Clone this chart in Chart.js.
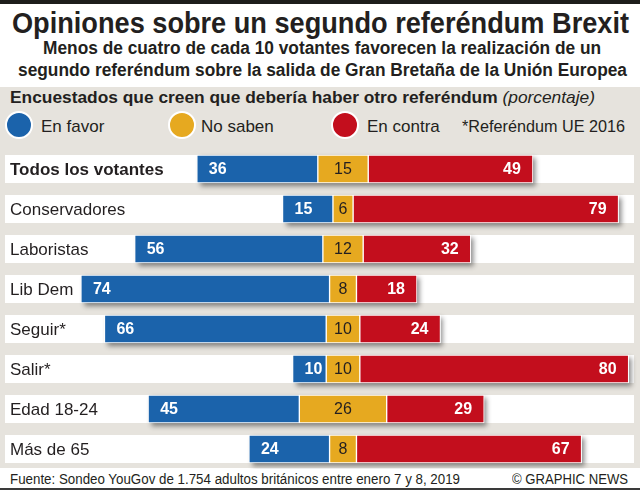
<!DOCTYPE html>
<html>
<head>
<meta charset="utf-8">
<script src="https://cdn.jsdelivr.net/npm/chart.js@4.4.1/dist/chart.umd.min.js"></script>
<style>
  body { margin: 0; width: 640px; height: 494px; position: relative; background: #fff;
         font-family: "Liberation Sans", Arial, sans-serif; color: #231f20; overflow: hidden; }
  .t { position: absolute; white-space: nowrap; line-height: 1; transform-origin: 0 0; }
  .dot { position: absolute; width: 24px; height: 24px; border-radius: 50%; border: 2px solid #fff; }
  #topbar { position: absolute; left: 0; top: 0; width: 640px; height: 4px; background: #1d1d1b; }
  #panel { position: absolute; left: 0; top: 87px; width: 640px; height: 381px; background: #e6e3dd; }
  #bottomline { position: absolute; left: 0; top: 488px; width: 640px; height: 2px; background: #3a3a3a; }
  #wrap { position: absolute; left: 0; top: 149px; width: 640px; height: 320px; }
</style>
</head>
<body>
<div id="topbar"></div>
<div id="panel"></div>
<div class="t" id="title" style="left:12px;top:8.5px;font-size:29px;font-weight:bold">Opiniones sobre un segundo referéndum Brexit</div>
<div class="t" id="sub1" style="left:40px;top:40.2px;font-size:17.5px;font-weight:bold">Menos de cuatro de cada 10 votantes favorecen la realización de un</div>
<div class="t" id="sub2" style="left:18px;top:62.2px;font-size:17.5px;font-weight:bold">segundo referéndum sobre la salida de Gran Bretaña de la Unión Europea</div>
<div class="t" id="head" style="left:10px;top:88.6px;font-size:17px;font-weight:bold">Encuestados que creen que debería haber otro referéndum <span style="font-weight:normal;font-style:italic">(porcentaje)</span></div>

<div class="dot" style="left:5px;top:111px;background:#1b63ab"></div>
<div class="t" style="left:41px;top:117.6px;font-size:17px">En favor</div>
<div class="dot" style="left:168px;top:111px;background:#e6a920"></div>
<div class="t" style="left:201px;top:117.6px;font-size:17px">No saben</div>
<div class="dot" style="left:331px;top:111px;background:#c30e1d"></div>
<div class="t" style="left:367px;top:117.6px;font-size:17px">En contra</div>
<div class="t" id="nota" style="left:462px;top:117.6px;font-size:17px">*Referéndum UE 2016</div>

<div id="wrap"><canvas id="myChart" width="640" height="320"></canvas></div>

<div class="t" id="fuente" style="left:10px;top:472px;font-size:14px">Fuente: Sondeo YouGov de 1.754 adultos británicos entre enero 7 y 8, 2019</div>
<div class="t" id="credito" style="left:512px;top:472px;font-size:14px">© GRAPHIC NEWS</div>
<div id="bottomline"></div>

<script>
// Datos
const categorias = ['Todos los votantes', 'Conservadores', 'Laboristas', 'Lib Dem', 'Seguir*', 'Salir*', 'Edad 18-24', 'Más de 65'];
const enFavor = [36, 15, 56, 74, 66, 10, 45, 24];
const noSaben = [15, 6, 12, 8, 10, 10, 26, 8];
const enContra = [49, 79, 32, 18, 24, 80, 29, 67];

const azul = '#1b63ab';
const amarillo = '#e6a920';
const rojo = '#c30e1d';

// ajustar textos al ancho del original
function fit(id, w) {
  const el = document.getElementById(id);
  const r = w / el.getBoundingClientRect().width;
  el.style.transform = 'scaleX(' + r + ')';
  return r;
}
fit('title', 617);
const rs = fit('sub2', 609);
const s1 = document.getElementById('sub1');
const w1 = s1.getBoundingClientRect().width * rs;
s1.style.transform = 'scaleX(' + rs + ')';
s1.style.left = (322.5 - w1 / 2) + 'px';
fit('head', 585);
fit('nota', 163);
fit('fuente', 450);
fit('credito', 116);

// barras flotantes centradas en "No saben"
const datosFavor = enFavor.map((v, i) => [-noSaben[i] / 2 - v, -noSaben[i] / 2]);
const datosNoSaben = noSaben.map(v => [-v / 2, v / 2]);
const datosContra = enContra.map((v, i) => [noSaben[i] / 2, noSaben[i] / 2 + v]);

const H = 28;

const filas = {
  id: 'filas',
  beforeDatasetsDraw(chart) {
    const { ctx, chartArea, scales: { x, y } } = chart;
    ctx.save();
    ctx.fillStyle = '#fff';
    categorias.forEach((c, i) => {
      const yc = y.getPixelForValue(i);
      ctx.fillRect(chartArea.left, yc - H / 2, chartArea.right - chartArea.left, H);
    });
    // sombra de cada barra
    ctx.shadowColor = 'rgba(0,0,0,0.45)';
    ctx.shadowBlur = 5;
    ctx.shadowOffsetX = 3;
    ctx.shadowOffsetY = 3;
    categorias.forEach((c, i) => {
      const yc = y.getPixelForValue(i);
      const x0 = x.getPixelForValue(datosFavor[i][0]);
      const x1 = x.getPixelForValue(datosContra[i][1]);
      ctx.fillRect(x0, yc - H / 2, x1 - x0, H);
    });
    ctx.restore();
  },
  afterDatasetsDraw(chart) {
    const { ctx, scales: { x, y } } = chart;
    ctx.save();
    ctx.textBaseline = 'middle';
    categorias.forEach((c, i) => {
      const yc = y.getPixelForValue(i) + 1;
      ctx.fillStyle = '#231f20';
      ctx.textAlign = 'left';
      ctx.font = (i === 0 ? 'bold ' : '') + '17px "Liberation Sans", Arial, sans-serif';
      ctx.fillText(c, 10, yc);

      ctx.font = 'bold 16px "Liberation Sans", Arial, sans-serif';
      ctx.fillStyle = '#fff';
      ctx.fillText(String(enFavor[i]), x.getPixelForValue(datosFavor[i][0]) + 12, yc);
      ctx.textAlign = 'right';
      ctx.fillText(String(enContra[i]), x.getPixelForValue(datosContra[i][1]) - 12, yc);

      ctx.font = '16px "Liberation Sans", Arial, sans-serif';
      ctx.fillStyle = '#231f20';
      ctx.textAlign = 'center';
      ctx.fillText(String(noSaben[i]), x.getPixelForValue(0), yc);
    });
    ctx.restore();
  }
};

const ctx = document.getElementById('myChart').getContext('2d');
const myChart = new Chart(ctx, {
  type: 'bar',
  data: {
    labels: categorias,
    datasets: [
      { label: 'En favor', data: datosFavor, backgroundColor: azul },
      { label: 'No saben', data: datosNoSaben, backgroundColor: amarillo },
      { label: 'En contra', data: datosContra, backgroundColor: rojo },
    ].map(d => Object.assign(d, {
      borderColor: '#fff', borderWidth: 1, borderSkipped: false,
      barThickness: H, grouped: false,
    })),
  },
  options: {
    indexAxis: 'y',
    responsive: false,
    devicePixelRatio: 1,
    animation: false,
    layout: { padding: { left: 5, right: 6, top: 0, bottom: 0 } },
    plugins: { legend: { display: false }, tooltip: { enabled: false } },
    scales: {
      x: { type: 'linear', min: -100.6, max: 86.6, display: false },
      y: { display: false },
    },
  },
  plugins: [filas],
});
</script>
</body>
</html>
